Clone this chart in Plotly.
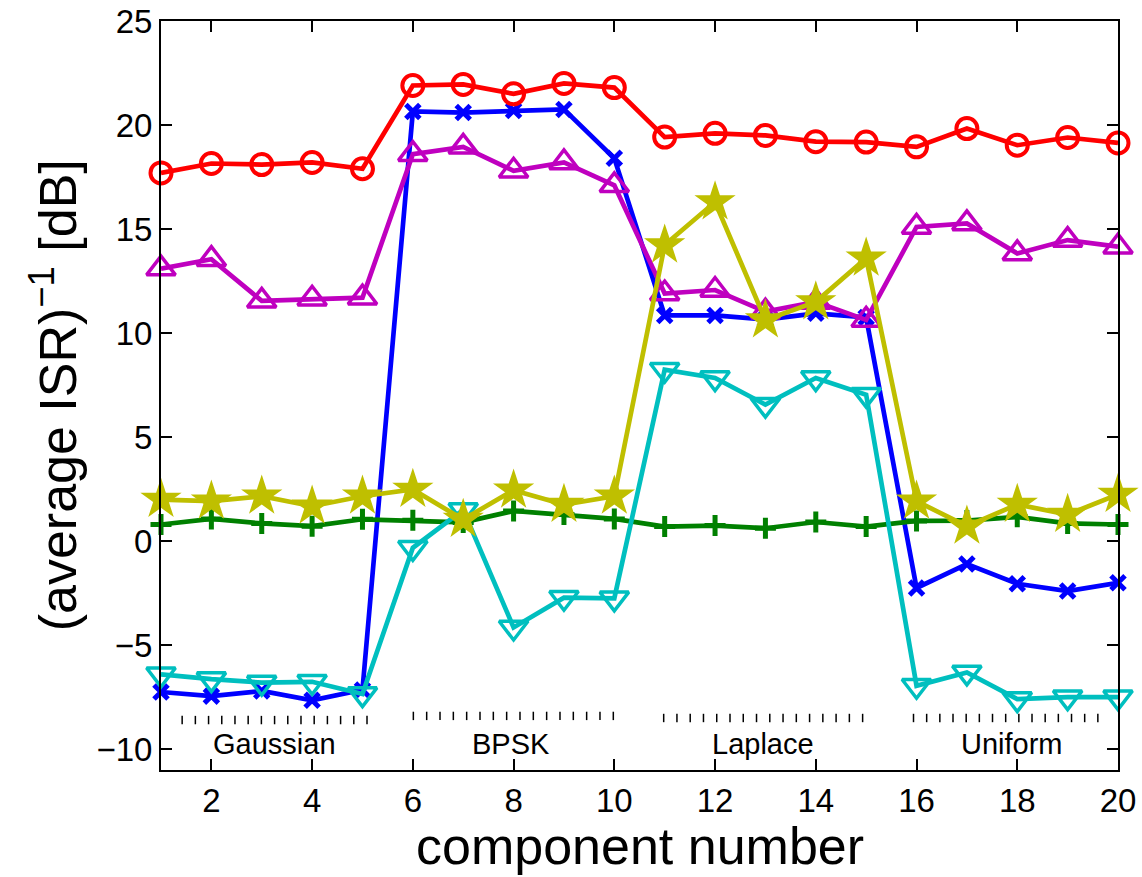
import plotly.graph_objects as go

components = list(range(1, 21))

s_blue = [-7.25, -7.45, -7.2, -7.65, -7.15, 20.65, 20.6, 20.7, 20.75, 18.4,
          10.85, 10.85, 10.65, 10.95, 10.75, -2.25, -1.1, -2.05, -2.4, -2.0]
s_green = [0.8, 1.07, 0.85, 0.72, 1.05, 1.0, 0.9, 1.45, 1.28, 1.07,
           0.7, 0.75, 0.62, 0.92, 0.7, 0.97, 0.99, 1.17, 0.85, 0.8]
s_red = [17.7, 18.15, 18.1, 18.2, 17.9, 21.9, 21.95, 21.5, 22.0, 21.8,
         19.42, 19.6, 19.5, 19.2, 19.18, 18.95, 19.83, 19.03, 19.4, 19.14]
s_cyan = [-6.4, -6.63, -6.8, -6.76, -7.35, -0.32, 1.5, -4.15, -2.72, -2.75,
          8.24, 7.84, 6.56, 7.84, 7.04, -6.95, -6.31, -7.59, -7.5, -7.5]
s_magenta = [13.1, 13.55, 11.55, 11.65, 11.7, 18.6, 18.95, 17.8, 18.2, 17.1,
             11.9, 12.07, 11.03, 11.5, 10.63, 15.1, 15.27, 13.83, 14.47, 14.15]
s_yellow = [2.0, 1.92, 2.16, 1.68, 2.16, 2.48, 1.04, 2.45, 1.76, 2.16,
            14.23, 16.3, 10.63, 11.5, 13.6, 1.92, 0.72, 1.76, 1.28, 2.24]

x_ticks = [2, 4, 6, 8, 10, 12, 14, 16, 18, 20]
y_ticks = [-10, -5, 0, 5, 10, 15, 20, 25]

groups = ["Gaussian", "BPSK", "Laplace", "Uniform"]
group_label_x = [3.25, 7.95, 12.95, 17.9]
group_label_y = -9.75
group_dot_start = [1.42, 6.01, 10.98, 15.94]
group_dot_end = [5.09, 9.98, 14.93, 19.6]
group_dot_count = [15, 16, 16, 15]
group_dot_y = [-8.6, -8.4, -8.5, -8.5]

x_title = "component number"
y_title = "(average ISR)<sup>\u22121</sup> [dB]"

FONT = "Liberation Sans, Arial, Helvetica, sans-serif"

series = [
    (s_blue, "#0000FF", dict(symbol="x-thin", size=14, line=dict(width=5, color="#0000FF"))),
    (s_green, "#008000", dict(symbol="cross-thin", size=15, line=dict(width=5, color="#008000"))),
    (s_red, "#FF0000", dict(symbol="circle-open", size=21, line=dict(width=4, color="#FF0000"))),
    (s_cyan, "#00BFBF", dict(symbol="triangle-down-open", size=25, line=dict(width=3.5, color="#00BFBF"))),
    (s_magenta, "#BF00BF", dict(symbol="triangle-up-open", size=25, line=dict(width=3.5, color="#BF00BF"))),
    (s_yellow, "#BFBF00", dict(symbol="star", size=31, color="#BFBF00", line=dict(width=0))),
]

fig = go.Figure()
for vals, col, mk in series:
    fig.add_trace(go.Scatter(x=components, y=vals, mode="lines+markers",
                             line=dict(color=col, width=4.7), marker=mk,
                             showlegend=False, cliponaxis=False))

# dotted tick rows under each group
for a, b, n, yy in zip(group_dot_start, group_dot_end, group_dot_count, group_dot_y):
    xs = [a + (b - a) * i / (n - 1) for i in range(n)]
    fig.add_trace(go.Scatter(x=xs, y=[yy] * n, mode="markers",
                             marker=dict(symbol="line-ns", size=6,
                                         line=dict(width=1.5, color="black")),
                             showlegend=False, hoverinfo="skip"))

for name, gx in zip(groups, group_label_x):
    fig.add_annotation(x=gx, y=group_label_y, text=name, showarrow=False,
                       font=dict(family=FONT, size=29, color="black"),
                       xanchor="center", yanchor="middle")

# axis titles
fig.add_annotation(xref="paper", yref="paper", x=0.5, y=-0.101, text=x_title,
                   showarrow=False, xanchor="center", yanchor="middle",
                   font=dict(family=FONT, size=52, color="black"))
fig.add_annotation(xref="paper", yref="paper", x=-0.112, y=0.5, text=y_title,
                   showarrow=False, xanchor="center", yanchor="middle", textangle=-90,
                   font=dict(family=FONT, size=52, color="black"))

axis_common = dict(showline=True, linecolor="black", linewidth=2, mirror="ticks",
                   ticks="inside", ticklen=11, tickwidth=1.5, tickcolor="black",
                   showgrid=False, zeroline=False, automargin=False,
                   tickfont=dict(family=FONT, size=33, color="black"))

fig.update_layout(
    width=1142, height=877,
    margin=dict(l=161, r=24, t=21, b=107),
    paper_bgcolor="white", plot_bgcolor="white",
    xaxis=dict(range=[1, 20], tickvals=x_ticks, **axis_common),
    yaxis=dict(range=[-11, 25], tickvals=y_ticks,
               ticktext=[("\u2212" + str(-v)) if v < 0 else str(v) for v in y_ticks],
               **axis_common),
)

fig.write_html("out.html", config={"displayModeBar": False},
               post_script="document.body.style.margin='0';document.body.style.overflow='hidden';")
